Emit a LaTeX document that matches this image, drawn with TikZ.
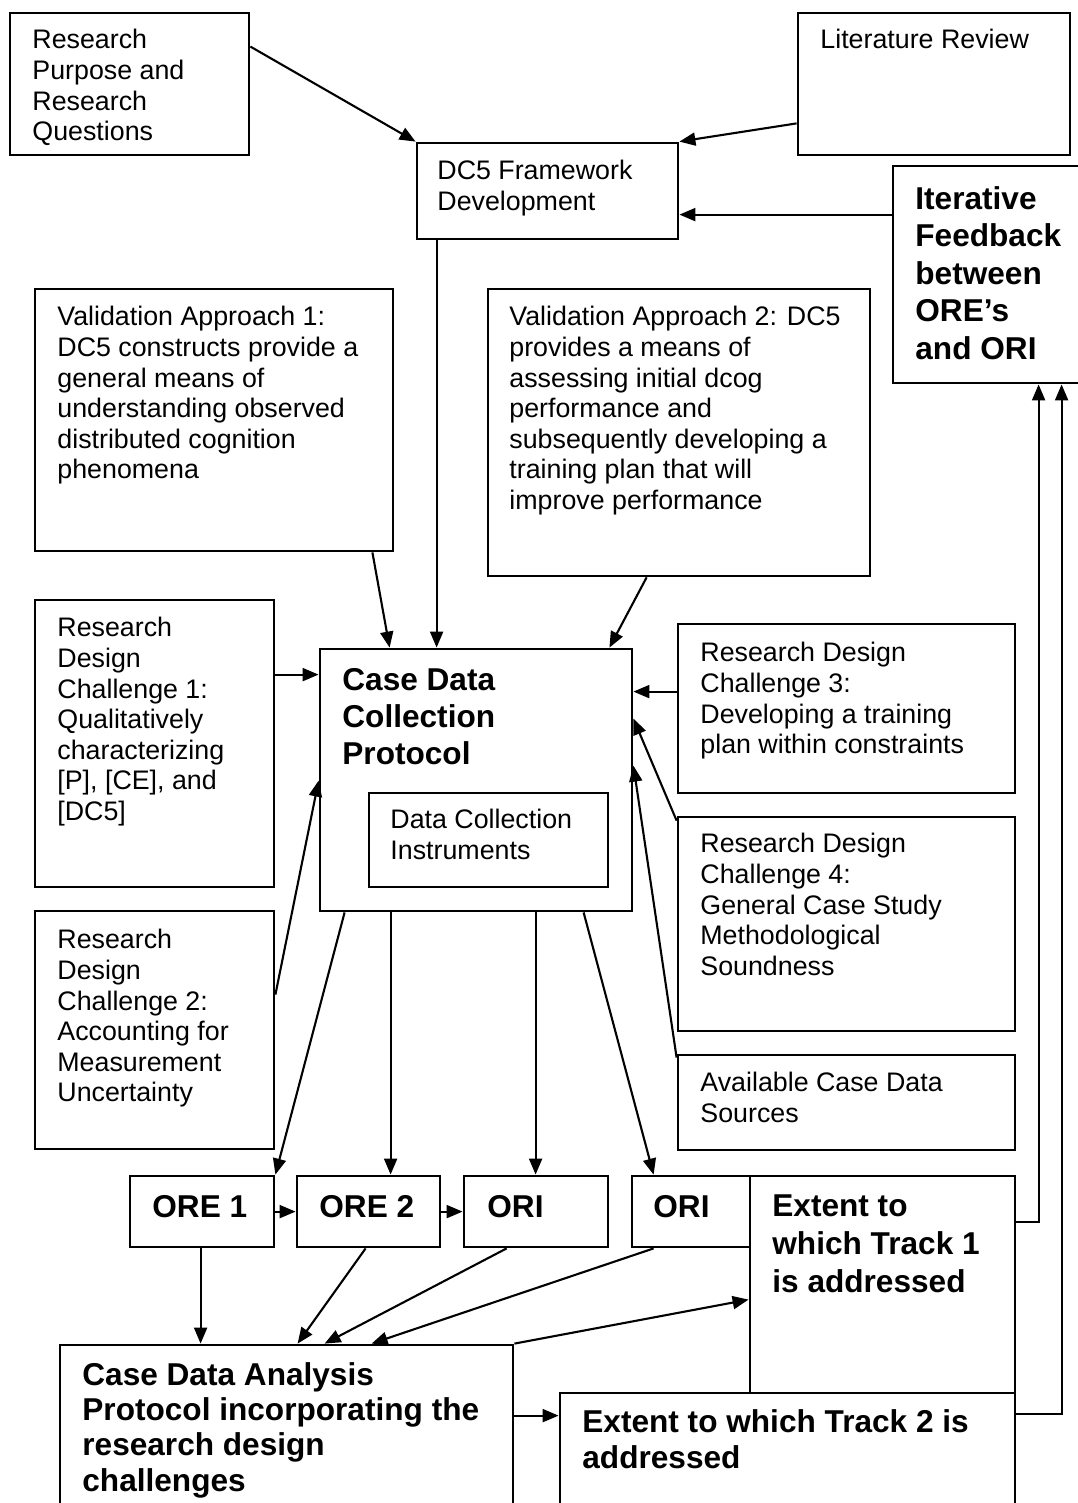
\documentclass[tikz,border=0pt]{standalone}
\usepackage{fontspec}
\setmainfont{Liberation Sans}
\usetikzlibrary{arrows.meta,calc,fit}
\begin{document}
\begin{tikzpicture}[x=0.5pt,y=-0.5pt,
  frame/.style={draw, line width=1.4pt, inner sep=0pt},
  txt/.style={anchor=north west, inner sep=0pt, align=left,
    font=\fontsize{13.4}{15.3}\selectfont},
  btxt/.style={anchor=north west, inner sep=0pt, align=left,
    font=\fontsize{15.8}{18.6}\selectfont\bfseries},
  link/.style={line width=1.05pt, -{Triangle[length=8pt,width=6.5pt]}}]
\useasboundingbox (0,0) rectangle (1077,1503);

% ---- boxes ----
\node[frame, fit={(10,13)(249,155)}] (rp) {};
\node[txt] (rp-t) at (32,29) {Research\\Purpose and\\Research\\Questions};

\node[frame, fit={(798,13)(1070,155)}] (lr) {};
\node[txt] (lr-t) at (820,29) {Literature Review};

\node[frame, fit={(417,143)(678,239)}] (dc5) {};
\node[txt] (dc5-t) at (437,160) {DC5 Framework\\Development};

\node[frame, fit={(893,166)(1095,383)}] (if) {};
\node[btxt, font=\fontsize{15.8}{18.75}\selectfont\bfseries] (if-t) at (915,186)
  {Iterative\\Feedback\\between\\ORE’s\\and ORI};

\node[frame, fit={(35,289)(393,551)}] (va1) {};
\node[txt] (va1-t) at (57,306) {Validation Approach 1:\\DC5 constructs provide a\\general means of\\understanding observed\\distributed cognition\\phenomena};

\node[frame, fit={(488,289)(870,576)}] (va2) {};
\node[txt] (va2-t) at (509,306) {Validation Approach 2: DC5\\provides a means of\\assessing initial dcog\\performance and\\subsequently developing a\\training plan that will\\improve performance};

\node[frame, fit={(35,600)(274,887)}] (rdc1) {};
\node[txt] (rdc1-t) at (57,617) {Research\\Design\\Challenge 1:\\Qualitatively\\characterizing\\{}[P], [CE], and\\{}[DC5]};

\node[frame, fit={(320,649)(632,911)}] (cdc) {};
\node[btxt, font=\fontsize{15.8}{18.5}\selectfont\bfseries] (cdc-t) at (342,668) {Case Data\\Collection\\Protocol};

\node[frame, fit={(369,793)(608,887)}] (dci) {};
\node[txt] (dci-t) at (390,809) {Data Collection\\Instruments};

\node[frame, fit={(678,624)(1015,793)}] (rdc3) {};
\node[txt] (rdc3-t) at (700,642) {Research Design\\Challenge 3:\\Developing a training\\plan within constraints};

\node[frame, fit={(678,817)(1015,1031)}] (rdc4) {};
\node[txt] (rdc4-t) at (700,833) {Research Design\\Challenge 4:\\General Case Study\\Methodological\\Soundness};

\node[frame, fit={(35,911)(274,1149)}] (rdc2) {};
\node[txt] (rdc2-t) at (57,929) {Research\\Design\\Challenge 2:\\Accounting for\\Measurement\\Uncertainty};

\node[frame, fit={(678,1055)(1015,1150)}] (acds) {};
\node[txt] (acds-t) at (700,1072) {Available Case Data\\Sources};

\node[frame, fit={(130,1176)(274,1247)}] (ore1) {};
\node[btxt] (ore1-t) at (152,1195) {ORE 1};
\node[frame, fit={(297,1176)(440,1247)}] (ore2) {};
\node[btxt] (ore2-t) at (319,1195) {ORE 2};
\node[frame, fit={(464,1176)(608,1247)}] (ori1) {};
\node[btxt] (ori1-t) at (487,1195) {ORI};
\node[frame, fit={(632,1176)(750,1247)}] (ori2) {};
\node[btxt] (ori2-t) at (653,1195) {ORI};

\node[frame, fit={(750,1176)(1015,1393)}] (t1) {};
\node[btxt, font=\fontsize{15.8}{19}\selectfont\bfseries] (t1-t) at (772,1194) {Extent to\\which Track 1\\is addressed};

\node[frame, fit={(60,1345)(513,1520)}] (cda) {};
\node[btxt, font=\fontsize{15.8}{17.65}\selectfont\bfseries] (cda-t) at (82,1362) {Case Data Analysis\\Protocol incorporating the\\research design\\challenges};

\node[frame, fit={(560,1393)(1015,1520)}] (t2) {};
\node[btxt, font=\fontsize{15.8}{18}\selectfont\bfseries] (t2-t) at (582,1409) {Extent to which Track 2 is\\addressed};

% ---- connectors ----
\draw[link] ($(rp.north east)+(0,35)$) -- (dc5.north west);
\draw[link] ($(lr.south west)+(0,-33)$) -- (dc5.north east);
\draw[link] ($(if.north west)+(0,50)$) -- ($(dc5.north east)+(0,73)$);
\draw[link] ($(dc5.south west)+(21,0)$) -- ($(cdc.north west)+(118,0)$);
\draw[link] ($(va1.south east)+(-22,0)$) -- ($(cdc.north west)+(71,0)$);
\draw[link] ($(va2.south west)+(160,0)$) -- ($(cdc.north east)+(-24,0)$);
\draw[link] ($(rdc1.north east)+(0,76)$) -- ($(cdc.north west)+(0,27)$);
\draw[link] ($(rdc3.north west)+(0,69)$) -- ($(cdc.north east)+(0,44)$);
\draw[link] ($(rdc4.north west)+(0,5)$) -- ($(cdc.north east)+(0,71)$);
\draw[link] ($(acds.north west)+(0,4)$) -- ($(cdc.north east)+(0,118)$);
\draw[link] ($(rdc2.north east)+(0,85)$) -- ($(cdc.north west)+(0,133)$);

\draw[link] ($(cdc.south west)+(26,0)$) -- (ore1.north east);
\draw[link] ($(cdc.south west)+(72,0)$) -- ($(ore2.north west)+(95,0)$);
\draw[link] ($(cdc.south west)+(217,0)$) -- ($(ori1.north west)+(73,0)$);
\draw[link] ($(cdc.south west)+(265,0)$) -- ($(ori2.north west)+(23,0)$);

\draw[link] ($(ore1.north east)+(0,37)$) -- ($(ore2.north west)+(0,37)$);
\draw[link] ($(ore2.north east)+(0,37)$) -- ($(ori1.north west)+(0,37)$);

\draw[link] ($(ore1.south west)+(72,0)$) -- ($(cda.north west)+(142,0)$);
\draw[link] ($(ore2.south west)+(70,0)$) -- ($(cda.north west)+(239,0)$);
\draw[link] ($(ori1.south west)+(44,0)$) -- ($(cda.north west)+(266,0)$);
\draw[link] ($(ori2.south west)+(23,0)$) -- ($(cda.north west)+(313,0)$);

\draw[link] (cda.north east) -- ($(t1.north west)+(0,125)$);
\draw[link] ($(cda.north east)+(0,72)$) -- ($(t2.north west)+(0,24)$);

\draw[link] ($(t1.north east)+(0,47)$) -| ($(if.south west)+(147,0)$);
\draw[link] ($(t2.north east)+(0,22)$) -| ($(if.south west)+(170,0)$);
\end{tikzpicture}
\end{document}
